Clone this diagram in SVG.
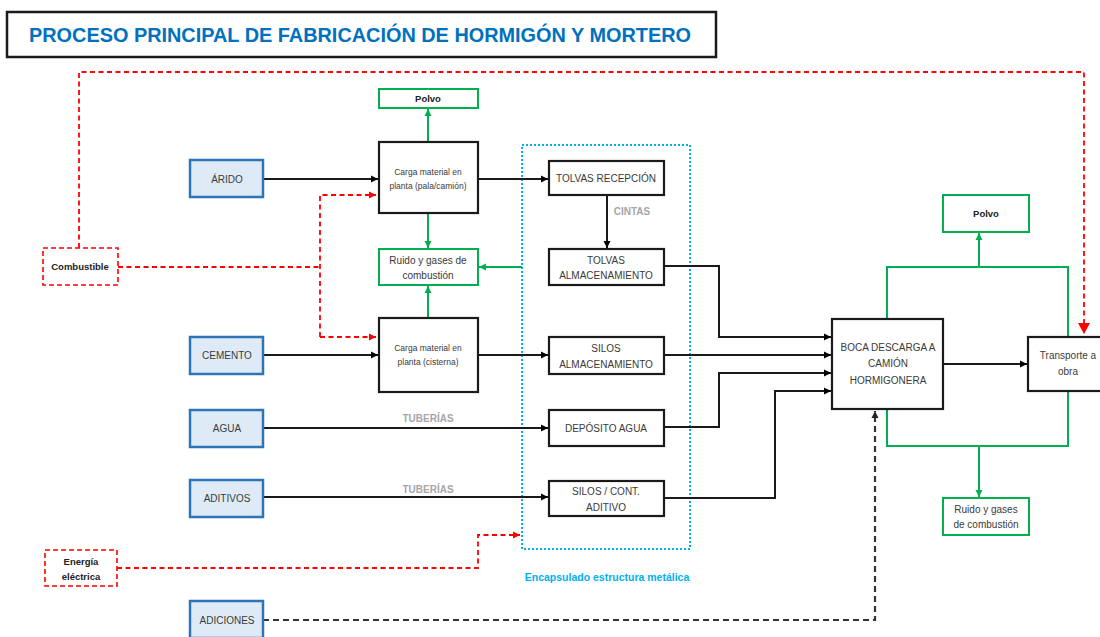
<svg xmlns="http://www.w3.org/2000/svg" width="1100" height="637" viewBox="0 0 1100 637">
<defs>
<marker id="ab" markerWidth="8" markerHeight="8" refX="7" refY="4" orient="auto" markerUnits="userSpaceOnUse"><path d="M0,0.5 L7,4 L0,7.5 Z" fill="#000"/></marker>
<marker id="ag" markerWidth="8" markerHeight="8" refX="7" refY="4" orient="auto" markerUnits="userSpaceOnUse"><path d="M0,0.5 L7,4 L0,7.5 Z" fill="#00B050"/></marker>
<marker id="ar" markerWidth="8" markerHeight="8" refX="7" refY="4" orient="auto" markerUnits="userSpaceOnUse"><path d="M0,0.5 L7,4 L0,7.5 Z" fill="#FF0000"/></marker>
<marker id="arb" markerWidth="12" markerHeight="12" refX="11" refY="6" orient="auto" markerUnits="userSpaceOnUse"><path d="M0,0 L11,6 L0,12 Z" fill="#FF0000"/></marker>
<marker id="ak" markerWidth="8" markerHeight="8" refX="7" refY="4" orient="auto" markerUnits="userSpaceOnUse"><path d="M0,0.5 L7,4 L0,7.5 Z" fill="#222"/></marker>
</defs>
<style>
text{font-family:"Liberation Sans",Arial,sans-serif;text-anchor:middle;fill:#3a3a3a}
.in{fill:#DEEBF7;stroke:#2E75B6;stroke-width:2.5}
.pr{fill:#fff;stroke:#1a1a1a;stroke-width:2.2}
.em{fill:#fff;stroke:#00B050;stroke-width:2}
.rd{fill:#fff;stroke:#FF0000;stroke-width:1.6;stroke-dasharray:5,3}
.cb{fill:none;stroke:#1a1a1a;stroke-width:2}
.cg{fill:none;stroke:#00B050;stroke-width:2}
.cr{fill:none;stroke:#FF0000;stroke-width:1.8;stroke-dasharray:5,3.5}
.ck{fill:none;stroke:#333;stroke-width:2.2;stroke-dasharray:6,4}
.t10{font-size:10px}
.t8{font-size:8.5px}
.b{font-weight:bold}
.bl{font-size:9.5px;font-weight:bold;fill:#222}
.gl{font-size:10px;font-weight:bold;fill:#A6A6A6}
</style>
<rect width="1100" height="637" fill="#fff"/>
<g id="title">
<rect x="7" y="12" width="709" height="45" fill="#fff" stroke="#1a1a1a" stroke-width="2.5"/>
<text x="360" y="42" font-size="20" font-weight="bold" style="fill:#0070C0" textLength="662" lengthAdjust="spacingAndGlyphs">PROCESO PRINCIPAL DE FABRICACIÓN DE HORMIGÓN Y MORTERO</text>
</g>
<g id="encapsulado">
<rect x="522" y="145" width="168" height="404" fill="none" stroke="#00B0F0" stroke-width="2" stroke-dasharray="2,2"/>
<text x="607" y="581" class="b" font-size="10.5" style="fill:#00B0F0">Encapsulado estructura metálica</text>
</g>
<g id="connectors">
<path class="cr" d="M79,248 V72 H1084 V334" marker-end="url(#arb)"/>
<path class="cr" d="M118,267 H320"/>
<path class="cr" d="M320,337 V195 H376" marker-end="url(#ar)"/>
<path class="cr" d="M320,337 H376" marker-end="url(#ar)"/>
<path class="cr" d="M117,568 H478 V535 H520" marker-end="url(#ar)"/>
<path class="cb" d="M263,179 H378" marker-end="url(#ab)"/>
<path class="cb" d="M263,355 H378" marker-end="url(#ab)"/>
<path class="cb" d="M478,179 H548" marker-end="url(#ab)"/>
<path class="cb" d="M478,355 H548" marker-end="url(#ab)"/>
<path class="cb" d="M263,428 H548" marker-end="url(#ab)"/>
<path class="cb" d="M263,497 H548" marker-end="url(#ab)"/>
<path class="cb" d="M607,195 V248" marker-end="url(#ab)"/>
<path class="cb" d="M664,266 H719 V337 H831" marker-end="url(#ab)"/>
<path class="cb" d="M664,355 H831" marker-end="url(#ab)"/>
<path class="cb" d="M664,427 H719 V373 H831" marker-end="url(#ab)"/>
<path class="cb" d="M664,498 H775 V391 H831" marker-end="url(#ab)"/>
<path class="cb" d="M943,364 H1027" marker-end="url(#ab)"/>
<path class="ck" d="M263,620 H875 V411" marker-end="url(#ak)"/>
<path class="cg" d="M428,142 V109" marker-end="url(#ag)"/>
<path class="cg" d="M428,213 V248" marker-end="url(#ag)"/>
<path class="cg" d="M428,318 V286" marker-end="url(#ag)"/>
<path class="cg" d="M522,267 H479" marker-end="url(#ag)"/>
<path class="cg" d="M887,319 V267 H1068 V337"/>
<path class="cg" d="M979,267 V233" marker-end="url(#ag)"/>
<path class="cg" d="M887,409 V446 H1068 V391"/>
<path class="cg" d="M979,446 V497" marker-end="url(#ag)"/>
</g>
<g id="combustible"><rect class="rd" x="43" y="248" width="75" height="37"/><text x="80" y="270" class="bl">Combustible</text></g>
<g id="energia"><rect class="rd" x="45" y="550" width="72" height="36"/><text x="81" y="565" class="bl">Energía</text><text x="81" y="580" class="bl">eléctrica</text></g>
<g id="arido"><rect class="in" x="190" y="160" width="73" height="37"/><text x="227" y="183" class="t10">ÁRIDO</text></g>
<g id="cemento"><rect class="in" x="190" y="337" width="73" height="37"/><text x="227" y="359" class="t10">CEMENTO</text></g>
<g id="agua"><rect class="in" x="190" y="410" width="73" height="37"/><text x="227" y="432" class="t10">AGUA</text></g>
<g id="aditivos"><rect class="in" x="190" y="480" width="73" height="37"/><text x="227" y="502" class="t10">ADITIVOS</text></g>
<g id="adiciones"><rect class="in" x="190" y="601" width="73" height="37"/><text x="227" y="624" class="t10">ADICIONES</text></g>
<g id="polvo1"><rect class="em" x="379" y="89" width="99" height="19"/><text x="428" y="102" class="bl">Polvo</text></g>
<g id="carga1"><rect class="pr" x="379" y="142" width="99" height="71"/><text x="428" y="175" class="t8">Carga material en</text><text x="428" y="189" class="t8">planta (pala/camión)</text></g>
<g id="ruido1"><rect class="em" x="379" y="249" width="99" height="36"/><text x="428" y="264" class="t10">Ruido y gases de</text><text x="428" y="279" class="t10">combustión</text></g>
<g id="carga2"><rect class="pr" x="379" y="318" width="99" height="74"/><text x="428" y="351" class="t8">Carga material en</text><text x="428" y="365" class="t8">planta (cisterna)</text></g>
<g id="tolvasrec"><rect class="pr" x="549" y="161" width="115" height="34"/><text x="606" y="182" class="t10">TOLVAS RECEPCIÓN</text></g>
<text x="632" y="215" class="gl">CINTAS</text>
<text x="428" y="422" class="gl">TUBERÍAS</text>
<text x="428" y="493" class="gl">TUBERÍAS</text>
<g id="tolvasalm"><rect class="pr" x="549" y="249" width="115" height="36"/><text x="606" y="264" class="t10">TOLVAS</text><text x="606" y="279" class="t10">ALMACENAMIENTO</text></g>
<g id="silosalm"><rect class="pr" x="549" y="337" width="115" height="37"/><text x="606" y="352" class="t10">SILOS</text><text x="606" y="368" class="t10">ALMACENAMIENTO</text></g>
<g id="deposito"><rect class="pr" x="549" y="410" width="115" height="36"/><text x="606" y="432" class="t10">DEPÓSITO AGUA</text></g>
<g id="siloscont"><rect class="pr" x="549" y="481" width="115" height="35"/><text x="606" y="495" class="t10">SILOS / CONT.</text><text x="606" y="511" class="t10">ADITIVO</text></g>
<g id="boca"><rect class="pr" x="832" y="319" width="111" height="90"/><text x="888" y="351" class="t10">BOCA DESCARGA A</text><text x="888" y="367" class="t10">CAMIÓN</text><text x="888" y="384" class="t10">HORMIGONERA</text></g>
<g id="transporte"><rect class="pr" x="1028" y="337" width="82" height="54"/><text x="1068" y="359" class="t10">Transporte a</text><text x="1068" y="375" class="t10">obra</text></g>
<g id="polvo2"><rect class="em" x="943" y="195" width="86" height="37"/><text x="986" y="217" class="bl">Polvo</text></g>
<g id="ruido2"><rect class="em" x="943" y="498" width="86" height="37"/><text x="986" y="513" class="t10">Ruido y gases</text><text x="986" y="528" class="t10">de combustión</text></g>
</svg>
